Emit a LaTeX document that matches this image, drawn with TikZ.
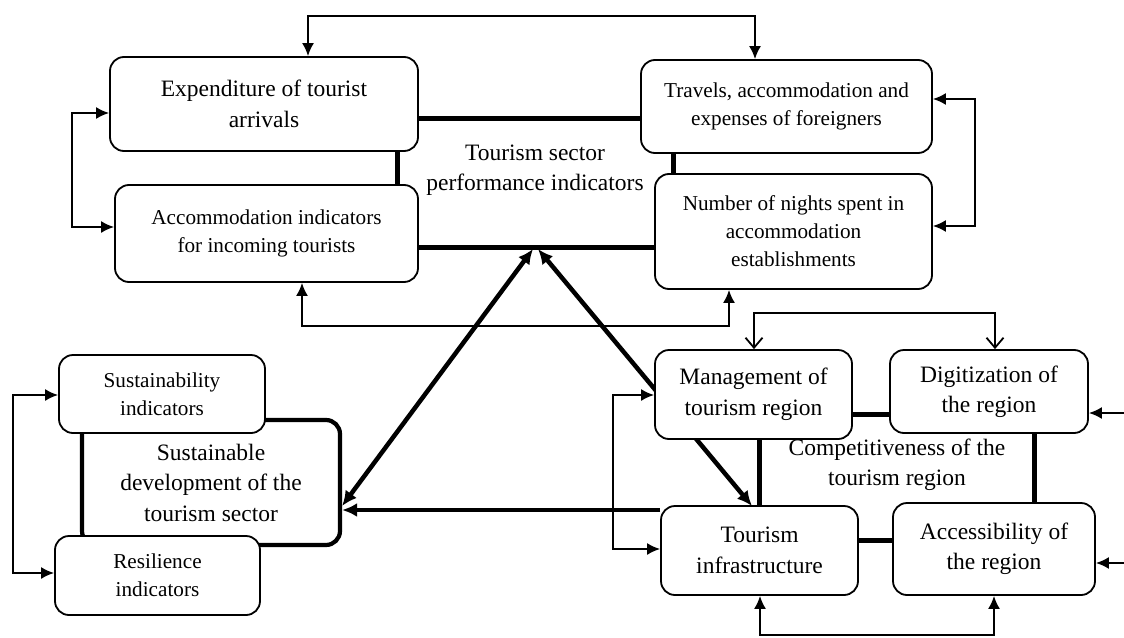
\documentclass[tikz,border=0pt]{standalone}
\usepackage{fontspec}
\setmainfont{Liberation Serif}
\usetikzlibrary{arrows.meta}
\begin{document}
\begin{tikzpicture}[x=1pt,y=-1pt,
  box/.style={draw, line width=1.8pt, rounded corners=14pt, fill=white, align=center, inner sep=0pt},
  big/.style={font=\fontsize{23.5}{30.5}\selectfont},
  small/.style={font=\fontsize{21.2}{28}\selectfont},
  lbl/.style={align=center, inner sep=0pt},
  link/.style={line width=5pt},
  conn/.style={line width=1.8pt},
  dbl/.style={conn, {Latex[length=13pt,width=12pt]}-{Latex[length=13pt,width=12pt]}},
  sgl/.style={conn, -{Latex[length=13pt,width=12pt]}},
  vee/.style={conn, {Straight Barb[length=10pt,width=17pt,line width=1.8pt]}-{Straight Barb[length=10pt,width=17pt,line width=1.8pt]}},
  bigdbl/.style={line width=4.5pt, {Latex[length=15pt,width=14pt]}-{Latex[length=15pt,width=14pt]}},
  bigsgl/.style={line width=4.5pt, -{Latex[length=15pt,width=14pt]}}
]
\useasboundingbox (0,0) rectangle (1124,637);

% named free points
\coordinate (t1) at (308,16);  \coordinate (t2) at (755,16);
\coordinate (l1) at (72,113);  \coordinate (l2) at (72,227);
\coordinate (r1) at (975,99);  \coordinate (r2) at (975,226);
\coordinate (b1) at (302,326); \coordinate (b2) at (729,326);
\coordinate (h1) at (0,118);   \coordinate (h2) at (0,247);
\coordinate (v1) at (397,0);   \coordinate (v2) at (673,0);
\coordinate (pA) at (533,249); \coordinate (pB) at (538,249);
\coordinate (s1) at (13,395);  \coordinate (s2) at (13,573);
\coordinate (m1) at (754,313); \coordinate (m2) at (995,313);
\coordinate (q1) at (613,395); \coordinate (q2) at (613,549);
\coordinate (u1) at (760,635); \coordinate (u2) at (994,635);
\coordinate (e1) at (1124,413); \coordinate (e2) at (1124,563);
\coordinate (hm) at (0,414);   \coordinate (ht) at (0,540); \coordinate (hs) at (0,510);
\coordinate (ha) at (0,506);
\coordinate (vm) at (759,0);   \coordinate (vd) at (1034,0);
\coordinate (tiTop) at (752,506);

% arrow passing behind the management box
\draw[bigdbl] (tiTop) -- (pB);

% sustainable development group
\node[box, big, line width=4.2pt, minimum width=258pt, minimum height=125pt] (sd) at (211,482.5)
  {Sustainable\\development of the\\tourism sector};
\node[box, small, minimum width=206pt, minimum height=78pt] (sust) at (162,394) {Sustainability\\indicators};
\node[box, small, minimum width=205pt, minimum height=79pt] (res) at (157.5,575.5) {Resilience\\indicators};

% performance indicators group
\node[box, big, minimum width=308pt, minimum height=94pt] (exp) at (264,104) {Expenditure of tourist\\arrivals};
\node[box, small, minimum width=291pt, minimum height=93pt] (trav) at (786.5,106.5) {Travels, accommodation and\\expenses of foreigners};
\node[box, small, minimum width=303pt, minimum height=97pt] (acc) at (266.5,233.5) {Accommodation indicators\\for incoming tourists};
\node[box, small, minimum width=277pt, minimum height=115pt] (nights) at (793.5,231.5) {Number of nights spent in\\accommodation\\establishments};
\node[lbl, big] (perf) at (535,170) {Tourism sector\\performance indicators};

% competitiveness group
\node[box, big, minimum width=197pt, minimum height=89pt] (mgmt) at (753.5,394.5) {Management of\\tourism region};
\node[box, big, minimum width=198pt, minimum height=83pt] (dig) at (989,391.5)
  {\raisebox{-3pt}{\begin{tabular}{@{}c@{}}Digitization of\\the region\end{tabular}}};
\node[box, big, minimum width=197pt, minimum height=89pt] (ti) at (759.5,550.5) {Tourism\\infrastructure};
\node[box, big, minimum width=202pt, minimum height=92pt] (accs) at (994,549) {Accessibility of\\the region};
\node[lbl, big] (comp) at (897,465) {Competitiveness of the\\tourism region};

% thick links
\draw[link] (exp.east |- h1) -- (trav.west |- h1);
\draw[link] (acc.east |- h2) -- (nights.west |- h2);
\draw[link] (exp.south -| v1) -- (acc.north -| v1);
\draw[link] (trav.south -| v2) -- (nights.north -| v2);
\draw[link] (mgmt.east |- hm) -- (dig.west |- hm);
\draw[link] (ti.east |- ht) -- (accs.west |- ht);
\draw[link] (mgmt.south -| vm) -- (ti.north -| vm);
\draw[link] (dig.south -| vd) -- (accs.north -| vd);

% big arrows
\draw[bigdbl] (sd.east |- ha) -- (pA);
\draw[bigsgl] (ti.west |- hs) -- (sd.east |- hs);

% thin feedback connectors
\draw[dbl] (t1 |- exp.north) -- (t1) -- (t2) -- (t2 |- trav.north);
\draw[dbl] (l1 -| exp.west) -- (l1) -- (l2) -- (l2 -| acc.west);
\draw[dbl] (r1 -| trav.east) -- (r1) -- (r2) -- (r2 -| nights.east);
\draw[dbl] (b1 |- acc.south) -- (b1) -- (b2) -- (b2 |- nights.south);
\draw[dbl] (s1 -| sust.west) -- (s1) -- (s2) -- (s2 -| res.west);
\draw[vee] (m1 |- mgmt.north) -- (m1) -- (m2) -- (m2 |- dig.north);
\draw[dbl] (q1 -| mgmt.west) -- (q1) -- (q2) -- (q2 -| ti.west);
\draw[dbl] (u1 |- ti.south) -- (u1) -- (u2) -- (u2 |- accs.south);
\draw[sgl] (e1) -- (e1 -| dig.east);
\draw[sgl] (e2) -- (e2 -| accs.east);
\end{tikzpicture}
\end{document}
